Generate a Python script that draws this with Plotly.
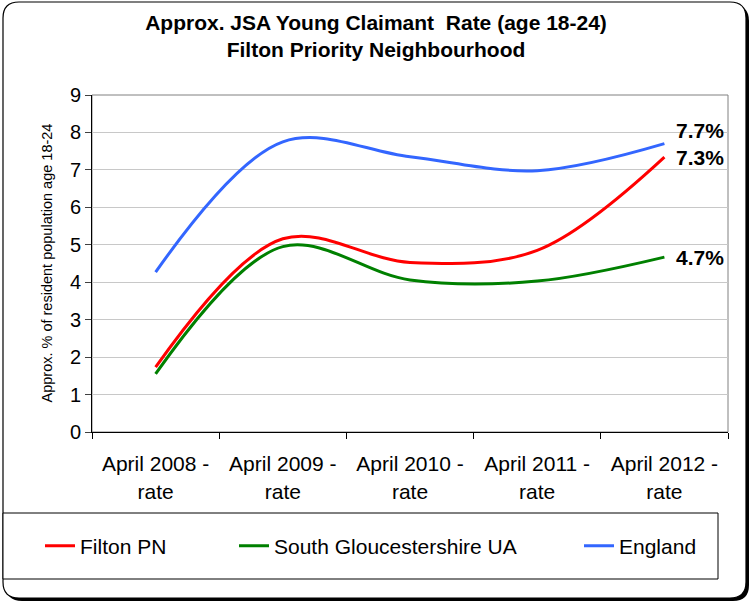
import plotly.graph_objects as go

# данные графика
categories = ["April 2008 -<br>rate", "April 2009 -<br>rate", "April 2010 -<br>rate",
              "April 2011 -<br>rate", "April 2012 -<br>rate"]
filton = [1.73, 5.16, 4.53, 4.85, 7.34]
south_glos = [1.55, 4.95, 4.06, 4.03, 4.67]
england = [4.27, 7.75, 7.35, 6.98, 7.70]

series_names = ["Filton PN", "South Gloucestershire UA", "England"]
series_values = [filton, south_glos, england]
series_colors = ["#ff0000", "#008000", "#3366ff"]

FONT = "Liberation Sans, Arial, sans-serif"

# пиксельная рамка области построения
L, R, T, B = 92, 728, 95, 432
W, H = 752, 606


def fx(px):
    return (px - L) / (R - L)


def fy(py):
    return (B - py) / (B - T)


def rounded(x0, y0, x1, y1, r):
    pts = [("M", x0 + r, y0), ("L", x1 - r, y0), ("Q", x1, y0, x1, y0 + r),
           ("L", x1, y1 - r), ("Q", x1, y1, x1 - r, y1), ("L", x0 + r, y1),
           ("Q", x0, y1, x0, y1 - r), ("L", x0, y0 + r), ("Q", x0, y0, x0 + r, y0)]
    out = ""
    for p in pts:
        cmd = p[0]
        coords = p[1:]
        s = []
        for k in range(0, len(coords), 2):
            s.append(f"{fx(coords[k]):.5f},{fy(coords[k + 1]):.5f}")
        out += cmd + " " + " ".join(s) + " "
    return out + "Z"


fig = go.Figure()
for i in range(len(series_names)):
    fig.add_trace(go.Scatter(
        x=categories,
        y=series_values[i],
        name=series_names[i],
        mode="lines",
        showlegend=True,
        line=dict(color=series_colors[i], width=3, shape="spline", smoothing=1),
        legend="legend" if i == 0 else f"legend{i + 1}",
    ))

# подписи последних значений
label_shift = [0, 0, 13]
for i in range(len(series_names)):
    v = series_values[i][-1]
    fig.add_annotation(
        x=categories[-1], y=v, text=f"<b>{v:.1f}%</b>", showarrow=False,
        xanchor="left", yanchor="middle", xshift=10, yshift=label_shift[i],
        font=dict(family=FONT, size=21, color="black"),
    )

fig.add_annotation(
    xref="paper", yref="paper", x=fx(46), y=0.5,
    text="Approx. % of resident population age 18-24", textangle=-90,
    showarrow=False, xanchor="center", yanchor="middle",
    font=dict(family=FONT, size=14.5, color="black"),
)

shapes = [
    # тень и рамка диаграммы
    dict(type="path", xref="paper", yref="paper", layer="below",
         path=rounded(6, 5, 749, 601, 16), fillcolor="black", line=dict(width=0)),
    dict(type="path", xref="paper", yref="paper", layer="below",
         path=rounded(3, 2, 746, 598, 16), fillcolor="white",
         line=dict(color="black", width=1.2)),
    # рамка области построения
    dict(type="rect", xref="paper", yref="paper", layer="below",
         x0=0, x1=1, y0=0, y1=1, line=dict(color="#808080", width=1)),
    # рамка легенды
    dict(type="rect", xref="paper", yref="paper", layer="below",
         x0=fx(3), x1=fx(718), y0=fy(579), y1=fy(513),
         line=dict(color="black", width=1), fillcolor="white"),
]

legend_x = [40, 234, 579]
legend_style = dict(orientation="h", xanchor="left", yanchor="middle",
                    y=fy(546), bgcolor="rgba(0,0,0,0)", borderwidth=0,
                    font=dict(family=FONT, size=21, color="black"))

fig.update_layout(
    width=W, height=H,
    margin=dict(l=L, r=W - R, t=T, b=H - B),
    paper_bgcolor="white",
    plot_bgcolor="rgba(0,0,0,0)",
    showlegend=True,
    font=dict(family=FONT, color="black"),
    title=dict(
        text="<b>Approx. JSA Young Claimant\u00a0 Rate (age 18-24)</b><br>"
             "<b>Filton Priority Neighbourhood</b>",
        x=0.5, xref="container", xanchor="center",
        y=1 - 30 / H, yref="container", yanchor="middle",
        font=dict(family=FONT, size=21, color="black"),
    ),
    shapes=shapes,
    legend=dict(x=fx(legend_x[0]), **legend_style),
    legend2=dict(x=fx(legend_x[1]), **legend_style),
    legend3=dict(x=fx(legend_x[2]), **legend_style),
    xaxis=dict(
        type="category", range=[-0.5, 4.5], tickson="boundaries",
        ticks="outside", ticklen=6, tickcolor="black", ticklabelstandoff=13,
        showline=True, linecolor="black", linewidth=1,
        showgrid=False, tickfont=dict(family=FONT, size=21, color="black"),
        fixedrange=True,
    ),
    yaxis=dict(
        range=[0, 9], dtick=1, ticks="outside", ticklen=6, tickcolor="#404040",
        showline=True, linecolor="black", linewidth=1,
        showgrid=True, gridcolor="#c8c8c8", gridwidth=1, zeroline=False,
        tickfont=dict(family=FONT, size=20, color="black"),
        fixedrange=True,
    ),
)

fig.write_html("out.html", config={"displayModeBar": False},
               post_script="document.body.style.margin='0';")
